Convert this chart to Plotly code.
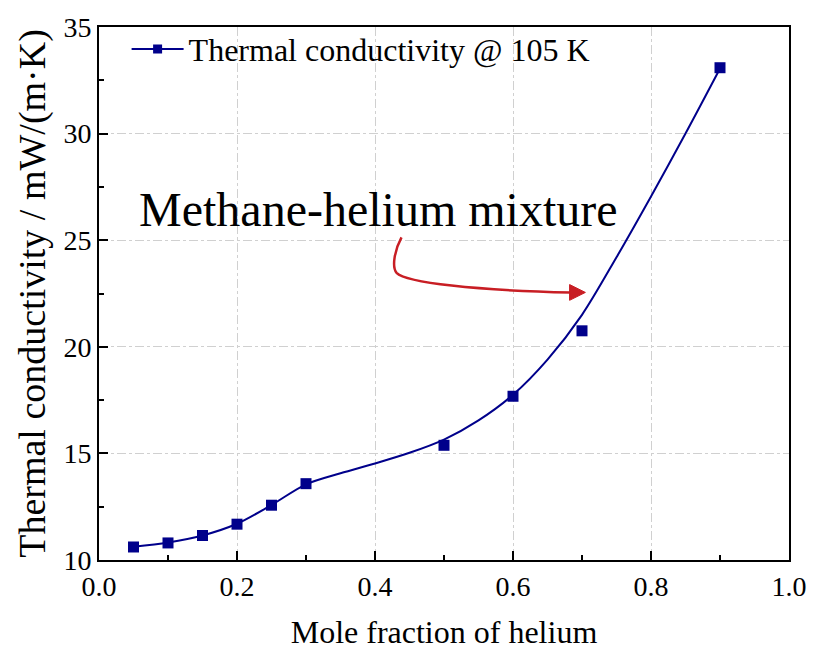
import plotly.graph_objects as go

# measured data points
mole_fraction = [0.05, 0.10, 0.15, 0.20, 0.25, 0.30, 0.50, 0.60, 0.70, 0.90]
conductivity = [10.61, 10.80, 11.15, 11.68, 12.57, 13.58, 15.38, 17.68, 20.75, 33.09]

# fitted curve
curve_x = [0.05, 0.10, 0.15, 0.20, 0.25, 0.30, 0.35, 0.40, 0.45, 0.50, 0.55,
           0.60, 0.65, 0.70, 0.75, 0.80, 0.85, 0.90]
curve_y = [10.62, 10.82, 11.15, 11.70, 12.58, 13.55, 14.07, 14.53, 15.03, 15.65,
           16.55, 17.75, 19.40, 21.50, 24.20, 27.05, 30.00, 33.05]

x_ticks = [0.0, 0.2, 0.4, 0.6, 0.8, 1.0]
x_ticklabels = ["0.0", "0.2", "0.4", "0.6", "0.8", "1.0"]
y_ticks = [10, 15, 20, 25, 30, 35]

NAVY = "#00008B"
RED = "#C81E24"
FONT = "Liberation Serif"

fig = go.Figure()
fig.add_trace(go.Scatter(x=curve_x, y=curve_y, mode="lines",
                         line=dict(color=NAVY, width=2, shape="spline", smoothing=0.9),
                         showlegend=False, hoverinfo="skip"))
fig.add_trace(go.Scatter(x=mole_fraction, y=conductivity, mode="markers",
                         marker=dict(symbol="square", size=11, color=NAVY),
                         showlegend=False))
fig.add_trace(go.Scatter(x=[None], y=[None], mode="lines+markers",
                         name="Thermal conductivity @ 105 K",
                         line=dict(color=NAVY, width=2),
                         marker=dict(symbol="square", size=9, color=NAVY)))

# red curved arrow (data coordinates)
fig.add_shape(type="path", xref="x", yref="y",
              path="M 0.4384,25.13 C 0.4284,24.53 0.4241,23.75 0.4312,23.47 "
                   "C 0.4456,23.01 0.5458,22.64 0.6834,22.55",
              line=dict(color=RED, width=2.5))
fig.add_shape(type="path", xref="x", yref="y",
              path="M 0.682,22.92 L 0.682,22.18 L 0.7049,22.55 Z",
              fillcolor=RED, line=dict(color=RED, width=1))

fig.add_annotation(x=0.055, y=26.45, xref="x", yref="y", xanchor="left", yanchor="middle",
                   text="Methane-helium mixture", showarrow=False,
                   font=dict(family=FONT, size=48, color="black"))

axis_common = dict(
    showline=True, linecolor="black", linewidth=2, mirror=True,
    ticks="inside", ticklen=9, tickwidth=2, tickcolor="black",
    showgrid=True, gridcolor="#D0D0D0", gridwidth=1, griddash="dashdot",
    zeroline=False,
    tickfont=dict(family=FONT, size=28, color="black"),
)

fig.update_xaxes(range=[0, 1.0], tickvals=x_ticks, ticktext=x_ticklabels,
                 minor=dict(dtick=0.1, tick0=0, ticks="inside", ticklen=5, tickwidth=2,
                            tickcolor="black", showgrid=False),
                 title_text="Mole fraction of helium", title_standoff=20,
                 title_font=dict(family=FONT, size=32, color="black"),
                 **axis_common)
fig.update_yaxes(range=[10, 35], tickvals=y_ticks,
                 minor=dict(dtick=2.5, tick0=10, ticks="inside", ticklen=5, tickwidth=2,
                            tickcolor="black", showgrid=False),
                 title_text="Thermal conductivity / mW/(m·K)", title_standoff=6,
                 title_font=dict(family=FONT, size=38, color="black"),
                 **axis_common)

fig.update_layout(
    width=819, height=658,
    margin=dict(l=99, r=22, t=18, b=98),
    paper_bgcolor="white", plot_bgcolor="white",
    font=dict(family=FONT, color="black"),
    legend=dict(x=0.04, y=1.01, xanchor="left", yanchor="top", itemwidth=52,
                bgcolor="rgba(0,0,0,0)", font=dict(family=FONT, size=32, color="black")),
)

fig.write_html("out.html")
